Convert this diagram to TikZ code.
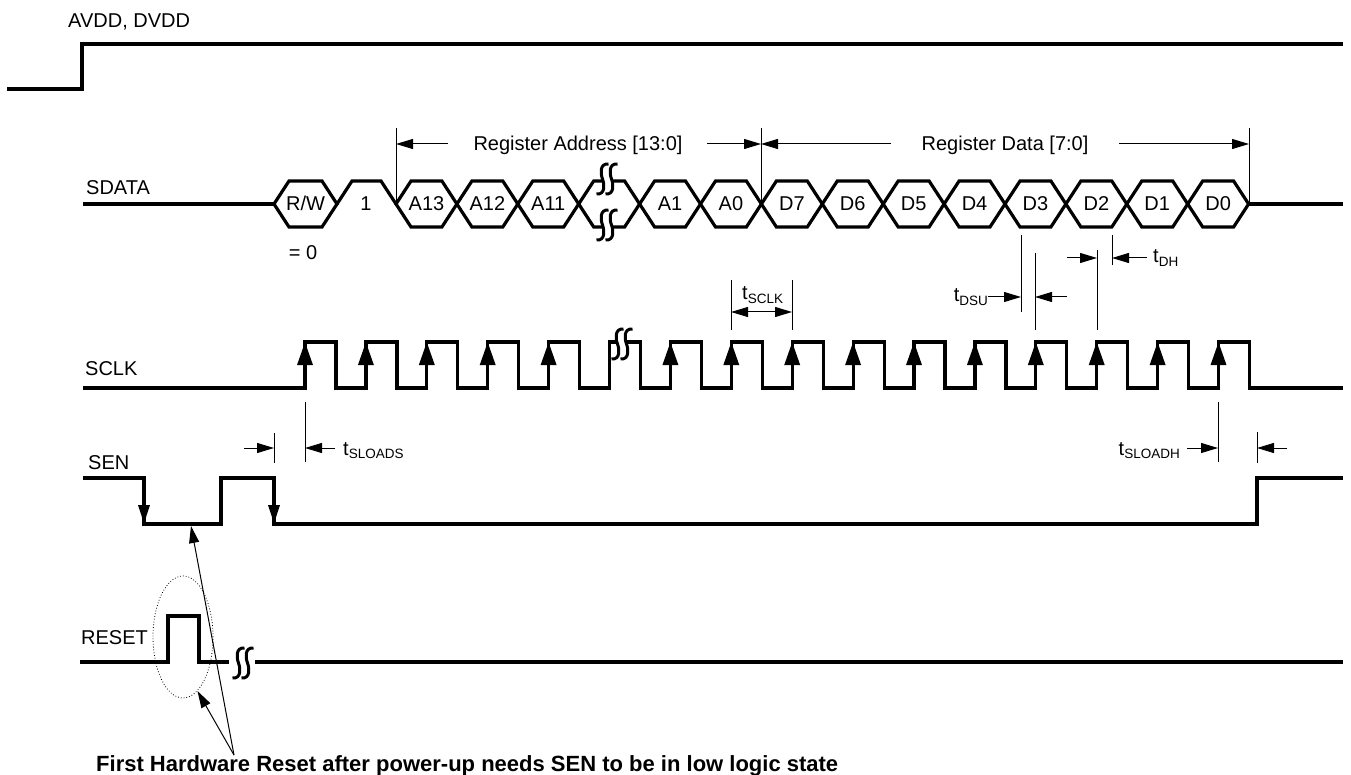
\documentclass[tikz,border=0pt]{standalone}
\usepackage{fontspec}
\setmainfont{Liberation Sans}
\usetikzlibrary{arrows.meta,calc,positioning,shapes.geometric}

\newcommand{\tsub}[1]{\raisebox{-3.5pt}{\fontsize{13.5}{15}\selectfont #1}}
% break mark: two slanted S strokes round (x,y), line cut between them
\newcommand{\breakmark}[2]{%
  \fill[white] ({#1-4.5},{#2-5}) rectangle ({#1+4.5},{#2+5});
  \foreach \dx in {-4.5,4.5}
    \draw[brk] ({#1+\dx+6},{#2-15}) .. controls ({#1+\dx-3},{#2-16}) and ({#1+\dx-2},{#2-5}) .. ({#1+\dx},{#2})
      .. controls ({#1+\dx+2},{#2+5}) and ({#1+\dx+3},{#2+16}) .. ({#1+\dx-6},{#2+15});
}

\begin{document}
\begin{tikzpicture}[
  x=1pt,
  y=-1pt,
  >=Triangle,
  wave/.style={line width=3.2pt, line join=miter},
  markline/.style={line width=1pt},
  brk/.style={line width=3pt},
  dim/.style={-{Triangle[length=17pt,width=10pt]}, line width=1pt},
  dimboth/.style={{Triangle[length=17pt,width=10pt]}-{Triangle[length=17pt,width=10pt]}, line width=1pt},
  clkedge/.style={-{Triangle[length=23pt,width=15pt]}, line width=3.2pt},
  senedge/.style={-{Triangle[length=19pt,width=11pt]}, line width=3.2pt},
  lbl/.style={font=\fontsize{20}{23}\selectfont, inner sep=0pt, anchor=base west},
  hexlbl/.style={font=\fontsize{20}{23}\selectfont, inner sep=0pt, anchor=base},
  note/.style={font=\bfseries\fontsize{22}{25}\selectfont, inner sep=0pt, anchor=base west},
  oval/.style={ellipse, draw, dotted, line width=0.8pt, minimum width=60pt, minimum height=122pt, inner sep=0pt}
]
\fill[white] (0,0) rectangle (1351,775);
\useasboundingbox (0,0) rectangle (1351,775);

% signal names
\node[lbl] (avdd)  at (68,28)  {AVDD, DVDD};
\node[lbl] (sdata) at (86,195) {SDATA};
\node[lbl] (sclk)  at (85,375) {SCLK};
\node[lbl] (sen)   at (88,469) {SEN};
\node[lbl] (reset) at (81,644) {RESET};

% AVDD, DVDD
\draw[wave] (7,89) -- (82,89) -- (82,44) -- (1343,44);

% SDATA bus
\draw[wave] (83,204) -- (274,204);
\draw[wave] (274,204) -- (289,181) -- (322,181) -- (337,204) -- (322,227) -- (289,227) -- cycle;
\draw[wave] (337,204) -- (352,181) -- (381,181) -- (396,204);
\foreach \k/\txt in {0/A13,1/A12,2/A11,3/{},4/A1,5/A0,6/D7,7/D6,8/D5,9/D4,10/D3,11/D2,12/D1,13/D0}{
  \pgfmathsetmacro{\xa}{396+60.9*\k}
  \draw[wave] (\xa,204) -- ({\xa+15},181) -- ({\xa+45.9},181) -- ({\xa+60.9},204)
    -- ({\xa+45.9},227) -- ({\xa+15},227) -- cycle;
  \node[hexlbl] (hex\k) at ({\xa+30.45},211) {\txt};
}
\draw[wave] (1249,204) -- (1343,204);
\node[hexlbl] (rw)     at (305.5,211) {R/W};
\node[hexlbl] (one)    at (366,211)   {1};
\node[hexlbl] (rwzero) at (303,260)   {= 0};
\breakmark{607}{179}
\breakmark{607}{225}

% address / data spans
\coordinate (mAddr) at (396,144);
\coordinate (mMid)  at (761,144);
\coordinate (mEnd)  at (1249,144);
\draw[markline] (396,128) -- (396,204);
\draw[markline] (761,128) -- (761,204);
\draw[markline] (1249,128) -- (1249,204);
\node[hexlbl] (regaddr) at (578,151)  {Register Address [13:0]};
\node[hexlbl] (regdata) at (1005,151) {Register Data [7:0]};
\draw[dim] ($(mAddr)+(52,0)$) -- (mAddr);
\draw[dim] ($(mMid)+(-54,0)$) -- (mMid);
\draw[dim] ($(mMid)+(130,0)$) -- (mMid);
\draw[dim] ($(mEnd)+(-130,0)$) -- (mEnd);

% SCLK
\draw[wave] (83,388) \foreach \k in {0,...,15}{
    -- ({305+60.9*\k},388) -- ({305+60.9*\k},342) -- ({336+60.9*\k},342) -- ({336+60.9*\k},388)
  } -- (1343,388);
\foreach \k in {0,1,2,3,4,6,7,...,15}
  \draw[clkedge] ({305+60.9*\k},388) -- ({305+60.9*\k},342);
\breakmark{622}{344}

% tSCLK
\draw[markline] (731,280) -- (731,330);
\draw[markline] (792,280) -- (792,330);
\coordinate (sclkA) at (731,312);
\coordinate (sclkB) at (792,312);
\draw[dimboth] (sclkA) -- (sclkB);
\node[lbl] (tsclk) at (742,300) {t\tsub{SCLK}};

% tDSU
\draw[markline] (1021,235) -- (1021,312);
\draw[markline] (1035,253) -- (1035,330);
\coordinate (dsuA) at (1021,297);
\coordinate (dsuB) at (1035,297);
\node[lbl, anchor=base east] (tdsu) at (988,302) {t\tsub{DSU}};
\draw[dim] (tdsu.east |- dsuA) -- (dsuA);
\draw[dim] ($(dsuB)+(32,0)$) -- (dsuB);

% tDH
\draw[markline] (1097,250) -- (1097,330);
\draw[markline] (1112,235) -- (1112,265);
\coordinate (dhA) at (1097,258);
\coordinate (dhB) at (1112,258);
\node[lbl] (tdh) at (1153,263) {t\tsub{DH}};
\draw[dim] ($(dhA)+(-30,0)$) -- (dhA);
\draw[dim] ($(dhB)+(35,0)$) -- (dhB);

% SEN
\draw[wave] (83,478) -- (144,478) -- (144,524) -- (221,524) -- (221,478) -- (274,478)
  -- (274,524) -- (1257,524) -- (1257,478) -- (1343,478);
\draw[senedge] (144,478) -- (144,524);
\draw[senedge] (274,478) -- (274,524);

% tSLOADS
\draw[markline] (274,433) -- (274,463);
\draw[markline] (305,402) -- (305,462);
\coordinate (ldsA) at (274,448);
\coordinate (ldsB) at (305,448);
\draw[dim] ($(ldsA)+(-30,0)$) -- (ldsA);
\draw[dim] ($(ldsB)+(30,0)$) -- (ldsB);
\node[lbl] (tsloads) at (343,455) {t\tsub{SLOADS}};

% tSLOADH
\draw[markline] (1218,402) -- (1218,462);
\draw[markline] (1257,432) -- (1257,463);
\coordinate (ldhA) at (1218,448);
\coordinate (ldhB) at (1257,448);
\node[lbl, anchor=base east] (tsloadh) at (1180,455) {t\tsub{SLOADH}};
\draw[dim] ($(ldhA)+(-31,0)$) -- (ldhA);
\draw[dim] ($(ldhB)+(30,0)$) -- (ldhB);

% RESET
\draw[wave] (80,662) -- (168,662) -- (168,616) -- (199,616) -- (199,662) -- (229,662);
\draw[wave] (255,662) -- (1343,662);
\breakmark{243}{663}
\node[oval] (rstoval) at (183,637) {};

% note
\node[note] (notetext) at (96,771) {First Hardware Reset after power-up needs SEN to be in low logic state};
\coordinate (notept) at (234,755);
\coordinate (senlow) at (191,526);
\draw[dim] (notept) -- (senlow);
\draw[dim] (notept) -- (rstoval.285);
\end{tikzpicture}
\end{document}
